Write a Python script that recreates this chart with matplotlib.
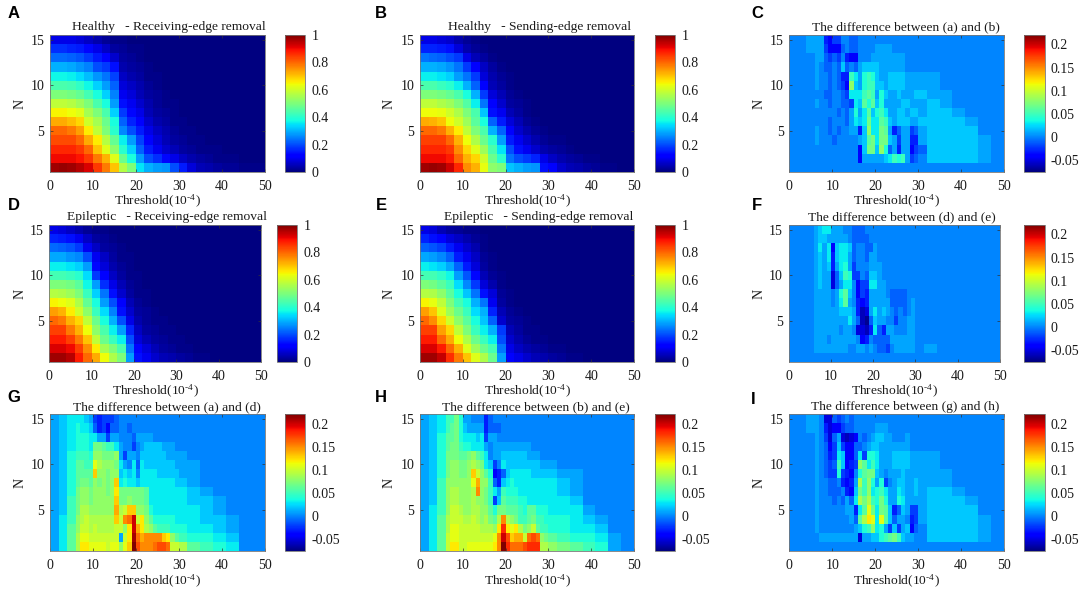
#!/usr/bin/python3
import matplotlib
matplotlib.use("Agg")
import matplotlib.pyplot as plt
import numpy as np

plt.rcParams['font.family'] = ['Liberation Serif', 'DejaVu Serif']
plt.rcParams['mathtext.fontset'] = 'custom'
plt.rcParams['mathtext.rm'] = 'Liberation Serif'
plt.rcParams['mathtext.default'] = 'rm'

W, H = 1084, 592

# cell edges along the threshold axis
SMOOTH_X = list(range(0, 51, 2))
DIFF_X = [0, 2, 4] + list(range(6, 31)) + [32, 35, 38, 41, 44, 47, 50]
N_EDGES = np.arange(0.5, 16)

# every table is listed from N=15 down to N=1, values in hundredths,
# rows stop where the rest of the row is plain background (0)
a_vals = [
    [9, 9, 9, 8, 6, 4, 2, 1, 1],
    [17, 17, 16, 15, 13, 9, 6, 3, 2, 1, 1],
    [23, 23, 22, 21, 18, 15, 12, 7, 3, 2, 1],
    [30, 30, 29, 27, 25, 20, 18, 14, 4, 3, 2, 1],
    [37, 37, 36, 34, 31, 27, 24, 19, 6, 4, 3, 1, 1],
    [44, 44, 43, 41, 37, 33, 28, 22, 8, 6, 4, 2, 1],
    [50, 50, 49, 47, 43, 38, 33, 25, 10, 8, 5, 3, 2, 1],
    [58, 58, 57, 54, 50, 44, 38, 28, 14, 10, 7, 4, 2, 1, 1],
    [65, 65, 64, 62, 55, 50, 44, 33, 18, 13, 9, 5, 3, 2, 1],
    [73, 73, 71, 68, 60, 55, 48, 38, 22, 16, 12, 7, 4, 3, 1, 1],
    [80, 80, 78, 74, 66, 58, 50, 40, 26, 20, 15, 9, 6, 4, 2, 1, 1],
    [83, 83, 83, 80, 73, 66, 57, 47, 36, 28, 19, 12, 8, 5, 3, 2, 1, 1],
    [87, 87, 87, 85, 80, 70, 62, 52, 40, 33, 22, 15, 10, 7, 5, 3, 2, 1, 1, 1],
    [90, 90, 90, 89, 85, 78, 72, 62, 48, 38, 28, 20, 17, 13, 9, 6, 4, 3, 2, 1, 1, 1],
    [97, 98, 97, 95, 92, 85, 78, 70, 57, 50, 35, 30, 28, 27, 20, 15, 8, 5, 4, 3, 2, 2, 1, 1, 1],
]
b_vals = [
    [9, 9, 8, 7, 4, 2, 1],
    [16, 16, 15, 14, 8, 4, 2, 1],
    [24, 23, 22, 20, 18, 9, 5, 3, 1],
    [30, 30, 29, 27, 24, 18, 11, 6, 3, 1],
    [36, 36, 35, 33, 28, 24, 18, 8, 4, 2, 1],
    [44, 44, 42, 40, 36, 30, 22, 12, 5, 3, 1],
    [50, 50, 49, 47, 44, 38, 30, 18, 8, 5, 2, 1],
    [58, 58, 56, 54, 50, 45, 36, 24, 12, 7, 3, 2, 1],
    [64, 64, 63, 60, 56, 50, 44, 32, 14, 10, 5, 3, 1],
    [73, 72, 70, 64, 60, 54, 46, 38, 22, 15, 8, 5, 2, 1],
    [80, 80, 78, 72, 66, 58, 50, 44, 30, 22, 12, 7, 4, 2, 1],
    [84, 84, 84, 80, 72, 64, 56, 48, 40, 28, 15, 10, 7, 4, 2, 1, 1],
    [87, 87, 87, 85, 76, 68, 62, 54, 44, 35, 20, 14, 10, 7, 4, 3, 2, 1],
    [90, 90, 90, 88, 80, 72, 68, 60, 48, 40, 24, 20, 18, 16, 9, 6, 4, 3, 2, 1, 1],
    [97, 98, 97, 93, 87, 76, 72, 63, 52, 50, 32, 30, 28, 27, 14, 12, 7, 5, 4, 3, 2, 1, 1],
]
d_vals = [
    [9, 8, 6, 4, 2, 1, 1],
    [16, 15, 14, 10, 6, 3, 2, 1],
    [23, 22, 21, 18, 10, 6, 3, 2, 1],
    [29, 29, 27, 26, 20, 10, 6, 3, 1, 1],
    [36, 36, 35, 33, 28, 13, 8, 4, 2, 1],
    [43, 43, 42, 40, 34, 18, 12, 6, 3, 1, 1],
    [50, 50, 49, 46, 37, 28, 17, 9, 5, 2, 1],
    [57, 56, 54, 50, 42, 33, 24, 14, 7, 3, 1, 1],
    [65, 64, 62, 56, 47, 38, 28, 20, 11, 5, 2, 1],
    [74, 72, 66, 60, 52, 42, 34, 25, 14, 7, 3, 2, 1],
    [80, 78, 72, 68, 58, 48, 38, 30, 20, 9, 4, 2, 1, 1],
    [84, 84, 78, 72, 64, 52, 44, 36, 28, 16, 6, 3, 2, 1, 1],
    [88, 88, 84, 78, 70, 58, 48, 42, 36, 20, 8, 5, 3, 2, 1, 1],
    [92, 92, 90, 84, 76, 66, 55, 50, 44, 24, 11, 8, 5, 3, 2, 1, 1],
    [97, 97, 95, 88, 80, 73, 64, 56, 50, 28, 14, 10, 7, 5, 4, 3, 2, 1, 1],
]
e_vals = [
    [9, 8, 5, 3, 2, 1, 1],
    [16, 14, 11, 8, 6, 4, 2, 1],
    [22, 21, 19, 15, 10, 7, 4, 1],
    [29, 28, 26, 22, 15, 10, 6, 2, 1],
    [36, 35, 33, 29, 22, 15, 8, 3, 1],
    [43, 43, 41, 37, 28, 21, 13, 5, 2, 1],
    [50, 49, 46, 42, 34, 26, 18, 8, 4, 1],
    [57, 56, 52, 46, 38, 32, 24, 14, 8, 2, 1],
    [65, 63, 58, 50, 43, 38, 30, 24, 10, 3, 1],
    [74, 70, 62, 54, 48, 42, 34, 30, 16, 5, 2, 1],
    [80, 76, 68, 60, 52, 46, 38, 32, 22, 7, 3, 2, 1],
    [84, 84, 74, 68, 58, 50, 42, 36, 30, 18, 5, 3, 1, 1],
    [88, 88, 80, 73, 64, 56, 48, 42, 36, 20, 7, 4, 2, 1, 1],
    [92, 92, 88, 80, 72, 62, 54, 48, 43, 24, 9, 6, 4, 3, 2, 1, 1],
    [97, 97, 94, 86, 78, 70, 62, 56, 48, 28, 12, 9, 7, 5, 4, 3, 2, 1, 1],
]
c_vals = [
    [0, 0, 1, 1, 1, -3, -4, -2, -2, 0, 0, -1, -1],
    [0, 0, 1, 1, 1, -2, -4, -4, -4, -1, 0, -1, -1, 0, 0, 0, 0, 1, 1, 1, 1],
    [0, 0, 0, 1, 1, -1, -2, -1, -2, 0, -3, -4, -4, 0, 0, 0, 1, 1, 1, 1, 1, 1, 1, 1],
    [0, 0, 0, 1, 0, -1, -1, 0, -1, 2, -1, 0, -1, 1, 2, 2, 2, 2, 1, 1, 1, 1, 1, 1],
    [0, 0, 0, 1, 0, 0, -1, 0, -1, -3, -3, 5, 3, 1, 4, 5, 4, 2, 1, 1, 2, 2, 2, 2, 1, 1, 1, 1, 1],
    [0, 0, 0, 1, 0, 0, -1, 0, -1, -2, -4, 8, 2, 1, 4, 5, 5, 2, 2, 1, 2, 2, 2, 2, 1, 1, 1, 1, 1],
    [0, 0, 0, 0, 0, -1, -1, 0, 0, -1, -2, 3, 3, 3, 5, 6, 5, 1, 4, 2, 1, 1, 2, 1, 1, 1, 2, 2, 1, 1],
    [0, 0, 0, 1, 0, 0, -1, 0, 0, -1, -1, -2, 3, 2, 6, 4, 6, 2, 4, 1, 1, 1, 1, 2, 2, 1, 1, 1, 2, 1],
    [0, 0, 0, 0, 0, 0, 0, 0, -1, 0, -1, 1, 4, 1, 3, 6, 2, 4, 5, 3, 1, 1, 2, 2, 1, 2, 2, 1, 2, 2, 1],
    [0, 0, 0, 0, 0, 0, -1, 0, 0, 0, -1, 1, 3, 2, 3, 7, 3, 3, 6, 5, 2, 1, 2, 2, 2, 1, 1, 2, 2, 2, 2, 1],
    [0, 0, 0, 1, 0, 0, -1, 0, -1, 0, 0, 1, 1, -3, 2, 8, 3, 3, 7, 6, 1, -3, -1, 1, 1, -2, -1, 1, 2, 2, 2, 2],
    [0, 0, 0, 1, 0, 0, 0, -1, 0, 0, 0, 0, 0, 1, 2, 6, 7, 3, 7, 7, 2, 1, -2, 1, 1, -3, -3, 1, 2, 2, 2, 2, 1],
    [0, 0, 0, 0, 0, 0, 0, 0, 0, 0, 0, 0, 0, -4, 2, 7, 7, 2, 8, 4, -1, 1, -3, 1, 1, -4, -2, -1, 2, 2, 2, 2, 1],
    [0, 0, 0, 0, 0, 0, 0, 0, 0, 0, 0, 0, 0, -4, 1, 1, 1, 1, 1, 2, 3, 5, 4, 5, 1, -2, -1, 0, 2, 2, 2, 2, 1],
    [],
]
f_vals = [
    [0, 0, 0, 1, 2, 3, 3, 1, 1, 1, 0, 0, -1, -1, -1],
    [0, 0, 0, 1, 2, 2, 1, 1, 1, 1, 1, 0, -1, -1, -1, -1],
    [0, 0, 0, 1, 3, 1, 3, -4, 2, 3, 3, 2, -1, 0, 0, -1, -1, 1],
    [0, 0, 0, 1, 2, 1, 3, -3, 2, 3, 3, 1, -1, 0, 0, -1, 1, 1],
    [0, 0, 0, 1, 2, 1, 2, -3, 1, 3, 4, 1, -2, 0, 0, 0, 1, 1, 1],
    [0, 0, 0, 1, 2, 1, 1, -5, -1, 2, 5, 4, -2, -2, 0, -1, 2, 2, 1],
    [0, 0, 0, 1, 2, 1, 1, -5, -1, 1, 3, 3, 0, -4, -2, -2, 3, 3, 1, 1],
    [0, 0, 0, 1, 1, 1, 1, 0, 1, 4, 6, 2, 0, -4, -2, -3, 1, 1, 1, 1, 0, -1, -1, -1, -1],
    [0, 0, 0, 1, 1, 1, 1, 0, 1, 3, 6, 1, 0, -3, -4, -3, 1, 1, 1, 1, 1, -1, -1, -1, -1, 0, 1],
    [0, 0, 0, 1, 1, 1, 1, 1, 1, 2, 2, 2, 1, -3, -6, -5, 1, 3, 1, 2, 1, 0, -1, 0, -1, 0, 1],
    [0, 0, 0, 1, 1, 1, 1, 1, 1, 1, 1, 3, 1, -1, -6, -7, -1, 2, 1, 1, 0, 0, -2, 0, 0, 1, 1],
    [0, 0, 0, 1, 1, 1, 1, 1, 1, 0, 1, 1, 0, -5, -5, -6, -3, 3, -1, -3, 1, 1, 0, 0, 0, 1, 1],
    [0, 0, 0, 1, 1, 1, 0, 1, 1, 1, 1, 1, 1, 0, -4, -3, 0, -1, -1, -1, -1, 1, 1, 1, 1, 1, 1],
    [0, 0, 0, 1, 1, 1, 1, 1, 1, 1, 1, 0, 0, 1, 1, 0, 1, 0, -1, -1, -2, 0, 1, 1, 1, 1, 1, 0, 1],
    [],
]
g_vals = [
    [1, 2, 3, 3, 3, 2, 1, -2, -3, -2, -2, -2, -1],
    [1, 2, 3, 4, 3, 3, 2, -1, -3, -2, -4, -1, -1, 0, 0, -1],
    [1, 2, 3, 4, 4, 4, 3, 3, 1, 1, -2, 1, 1, 0, 0, 0, -1, 1, 1, 1, 1],
    [1, 2, 3, 4, 4, 4, 3, 7, 7, 6, 5, 5, 3, 1, 0, 0, -2, 0, 1, 2, 2, 2, 2, 1, 1, 1],
    [1, 2, 4, 5, 5, 5, 4, 8, 8, 7, 7, 7, 8, 1, -2, 1, 1, 0, 2, 2, 2, 2, 2, 2, 1, 1, 1, 1],
    [1, 2, 4, 6, 6, 5, 5, 11, 9, 8, 8, 8, 7, 3, 1, 0, 3, -1, 3, 2, 2, 2, 2, 2, 2, 2, 1, 1, 1],
    [1, 2, 4, 6, 6, 6, 6, 13, 8, 8, 7, 8, 8, 2, 3, 2, 3, 0, 3, 3, 3, 3, 2, 2, 2, 2, 2, 1, 1],
    [1, 2, 4, 6, 7, 7, 6, 8, 7, 8, 7, 8, 13, 3, 4, 3, 3, 2, 3, 3, 3, 3, 3, 3, 3, 3, 2, 2, 1],
    [1, 2, 4, 7, 8, 8, 7, 8, 8, 8, 7, 8, 12, 7, 7, 7, 7, 7, 7, 6, 3, 3, 3, 3, 3, 3, 3, 3, 2, 1],
    [1, 2, 5, 7, 8, 8, 7, 8, 8, 8, 8, 8, 13, 7, 7, 8, 7, 7, 7, 6, 3, 3, 3, 3, 3, 3, 3, 3, 2, 2, 1],
    [1, 2, 5, 7, 9, 9, 8, 8, 8, 8, 8, 8, 14, 9, 10, 13, 13, 8, 8, 7, 4, 3, 3, 3, 3, 3, 3, 3, 3, 2, 1],
    [1, 3, 5, 8, 9, 10, 9, 9, 9, 9, 9, 9, 13, 10, 15, 16, 20, 10, 12, 8, 6, 4, 4, 4, 4, 4, 3, 3, 3, 2, 2, 1],
    [1, 3, 6, 8, 10, 10, 9, 10, 9, 9, 9, 9, 10, 10, 8, 12, 20, 14, 12, 9, 8, 6, 5, 5, 5, 4, 4, 4, 3, 3, 2, 1],
    [1, 3, 6, 9, 11, 11, 10, 10, 10, 10, 10, 10, 10, 1, 10, 12, 21, 16, 14, 15, 15, 15, 15, 13, 12, 8, 6, 5, 4, 4, 3, 2],
    [1, 3, 6, 9, 12, 12, 11, 11, 11, 11, 10, 11, 11, 8, 11, 13, 22, 17, 15, 15, 15, 16, 17, 17, 16, 10, 10, 9, 6, 5, 4, 3],
]
h_vals = [
    [1, 2, 3, 5, 5, 7, 4, 1, 1, 0, 0, 0, -3, -1],
    [1, 2, 3, 5, 6, 7, 4, 2, 1, 1, 1, 1, -3, -1, -1, -1],
    [1, 2, 4, 6, 6, 7, 4, 3, 3, 3, 2, 3, -2, 1, 1],
    [1, 2, 4, 6, 7, 7, 5, 4, 4, 3, 3, 3, 1, 0, 1, 1, 1, 1, 1, 1, 1, 1, 1],
    [1, 2, 4, 7, 7, 7, 6, 6, 7, 8, 6, 5, 3, 0, 1, 1, 2, 2, 2, 2, 2, 2, 1, 1, 1],
    [1, 2, 4, 7, 8, 8, 7, 7, 8, 9, 8, 7, 3, 2, -2, 0, 3, 2, 2, 2, 2, 2, 2, 2, 2, 1, 1, 1],
    [1, 2, 4, 7, 8, 8, 7, 7, 8, 13, 10, 8, 6, 4, -4, -3, -1, 2, 3, 3, 3, 3, 3, 2, 2, 2, 2, 2, 1, 1],
    [1, 2, 5, 8, 8, 8, 8, 8, 8, 11, 14, 8, 8, 5, -1, -3, 2, 3, 4, 3, 3, 3, 3, 3, 3, 3, 3, 3, 2, 1],
    [1, 2, 5, 8, 9, 9, 8, 8, 8, 9, 15, 8, 7, 5, 3, 1, 5, 4, 4, 4, 3, 3, 3, 3, 3, 3, 3, 3, 2, 1],
    [1, 2, 5, 8, 9, 9, 8, 8, 8, 9, 8, 8, 7, 5, -2, 2, 6, 5, 5, 5, 4, 4, 3, 3, 3, 3, 3, 3, 3, 2],
    [1, 3, 5, 8, 10, 10, 9, 8, 8, 9, 9, 8, 8, 6, 4, 7, 7, 6, 6, 6, 5, 4, 6, 6, 4, 4, 4, 3, 3, 3, 1],
    [1, 3, 6, 9, 10, 10, 10, 9, 9, 10, 9, 8, 9, 7, 6, 9, 15, 9, 8, 7, 5, 5, 6, 7, 5, 5, 4, 4, 4, 3, 2, 1],
    [1, 3, 6, 9, 11, 11, 10, 10, 10, 10, 10, 9, 9, 9, 8, 12, 18, 12, 11, 12, 9, 7, 8, 10, 6, 5, 5, 4, 4, 3, 3, 2],
    [1, 3, 6, 10, 11, 11, 10, 10, 10, 10, 10, 10, 10, 10, 11, 15, 20, 17, 13, 14, 14, 10, 16, 17, 16, 8, 7, 6, 5, 4, 4, 3, 1],
    [1, 3, 6, 10, 12, 12, 10, 10, 11, 11, 11, 11, 11, 11, 12, 15, 22, 18, 16, 16, 16, 17, 18, 18, 18, 9, 9, 8, 7, 6, 5, 4, 1],
]
i_vals = [
    [0, 0, 1, 1, 0, -5, -5, -1, -2, -1, 0, -1],
    [0, 0, 1, 1, 0, -3, -5, -4, -4, -2, -1, -1, 0, 0, 0, 0, 0, 1, 1, 1],
    [0, 0, 0, 1, 0, -2, -5, -1, 1, -5, -6, -5, -4, 0, -1, 0, 1, 2, 2, 1, 1, 0, 0, 0, 1],
    [0, 0, 0, 1, 0, -1, -4, -2, 2, -2, -4, -4, -1, -1, 0, 1, 2, 2, 1, 1, 1, 1, 1, 1, 1],
    [0, 0, 0, 1, 0, -1, -3, -2, 3, 2, -4, -4, -1, 3, -2, 4, 4, 3, 1, 1, 1, 2, 2, 2, 2, 1, 1, 1, 1],
    [0, 0, 0, 1, 0, -1, -2, -1, 5, 2, -4, -3, -2, 8, 6, 3, 5, 3, 1, 1, 1, 2, 2, 2, 2, 1, 1, 1, 1],
    [0, 0, 0, 1, 0, -1, -2, -2, 4, -2, -3, -4, 0, 4, 6, 7, 7, 2, 1, 0, 1, 1, 1, 2, 1, 1, 1, 1, 1, 1],
    [0, 0, 0, 1, 0, 0, -1, -1, 0, -3, -4, -3, 1, 9, 5, 8, 4, 1, 4, -2, 0, 1, 2, 2, 1, 1, 2, 1, 1, 1],
    [0, 0, 0, 1, 0, 0, -1, -1, -1, 0, -3, -4, 2, 7, 5, 8, 3, 4, 5, 3, 1, 1, 3, 2, 1, 1, 2, 1, 2, 2, 1],
    [0, 0, 0, 1, 0, 0, 0, -1, 0, -1, 1, -1, 3, 9, 7, 9, 5, 4, 7, 4, 1, 1, 4, 3, 1, 1, 1, 1, 2, 2, 2, 1],
    [0, 0, 0, 1, 0, 0, 0, 0, 0, 0, 1, 1, -3, 3, 6, 11, 7, 3, 7, 6, 2, -3, -1, 2, 1, -2, -2, 1, 2, 2, 2, 2],
    [0, 0, 0, 1, 0, 0, 0, 0, 0, 0, 0, 1, -1, 6, 9, 12, 11, 3, 11, 6, 2, -1, 1, 1, 0, -3, -2, 1, 2, 2, 2, 2, 1],
    [0, 0, 0, 1, 0, 0, 0, 0, 0, 0, 0, 0, 1, 2, 4, 5, 8, 3, 4, 1, -2, 2, -2, 1, 2, -4, -1, 0, 2, 2, 2, 2, 1],
    [0, 0, 0, 0, 1, 1, 1, 1, 1, 1, 1, 1, 1, -5, 1, 1, 2, 2, 4, 5, 6, 7, 5, 2, 1, 1, 0, 0, 2, 2, 2, 2, 1],
    [],
]

titles = [
    'Healthy   - Receiving-edge removal', 'Healthy   - Sending-edge removal',
    'The difference between (a) and (b)',
    'Epileptic   - Receiving-edge removal', 'Epileptic   - Sending-edge removal',
    'The difference between (d) and (e)',
    'The difference between (a) and (d)', 'The difference between (b) and (e)',
    'The difference between (g) and (h)',
]
letters = ['A', 'B', 'C', 'D', 'E', 'F', 'G', 'H', 'I']
tables = [a_vals, b_vals, c_vals, d_vals, e_vals, f_vals, g_vals, h_vals, i_vals]
x_ticks = [0, 10, 20, 30, 40, 50]
n_ticks = [5, 10, 15]
smooth_cbar_ticks = [0, 0.2, 0.4, 0.6, 0.8, 1]
smooth_cbar_labels = ['0', '0.2', '0.4', '0.6', '0.8', '1']
diff_cbar_ticks = [-0.05, 0, 0.05, 0.1, 0.15, 0.2]
diff_cbar_labels = ['-0.05', '0', '0.05', '0.1', '0.15', '0.2']

# layout in reference pixels: left, right, top, bottom
axes_px = [(50, 264.7, 35, 172), (420, 634, 35, 172), (789.3, 1004, 35, 172),
           (49.3, 261, 225, 362), (420, 634, 225, 362), (788.5, 1000, 225, 362),
           (50, 264.7, 414.3, 551), (420, 634, 414.3, 551), (789.3, 1004, 414.3, 551)]
cbar_px = [(285, 305), (655, 675), (1024, 1044.7),
           (277, 297), (655, 675), (1024, 1044.7),
           (285, 305), (655, 675), (1024, 1044.7)]
title_cx = [169, 539.6, 905.5, 167, 539, 902, 167, 536, 904.7]
title_cy = [27, 27, 27, 217, 217, 217, 407, 407, 407]
xlabel_cy = [201, 201, 201, 391, 391, 391, 581, 581, 581]
letter_xy = [(14, 13), (381, 13), (757, 13), (14, 205), (381, 205), (757, 205),
             (14, 397), (381, 397), (753, 400)]
ylabel_x = [20, 389, 759, 20, 389, 759, 20, 389, 759]


def to_grid(rows, n_cols):
    out = np.zeros((15, n_cols))
    for r, row in enumerate(rows):
        out[r, :len(row)] = row
    return np.flipud(out) / 100.0


def px_box(left, right, top, bottom):
    return [left / W, 1 - bottom / H, (right - left) / W, (bottom - top) / H]


def style_axes(ax):
    ax.tick_params(direction='in', length=2, width=0.5, labelsize=10, pad=4,
                   color='#333333', labelcolor='#1a1a1a')
    for s in ax.spines.values():
        s.set_linewidth(0.6)
        s.set_color('#777777')


fig = plt.figure(figsize=(W / 100, H / 100), dpi=100)

for i, rows in enumerate(tables):
    smooth = i in (0, 1, 3, 4)
    edges = SMOOTH_X if smooth else DIFF_X
    grid = to_grid(rows, len(edges) - 1)
    vmin, vmax = (0, 1) if smooth else (-0.075, 0.22)

    l, r, t, b = axes_px[i]
    ax = fig.add_axes(px_box(l, r, t, b))
    mesh = ax.pcolormesh(edges, N_EDGES, grid, cmap='jet', vmin=vmin, vmax=vmax,
                         shading='flat', rasterized=True)
    ax.set_xlim(0, 50)
    ax.set_ylim(0.5, 15.5)
    ax.set_xticks(x_ticks)
    ax.set_yticks(n_ticks)
    style_axes(ax)
    ax.tick_params(top=True, right=True)
    ax.tick_params(axis='x', pad=6)

    cl, cr = cbar_px[i]
    cax = fig.add_axes(px_box(cl, cr, t, b))
    cb = fig.colorbar(mesh, cax=cax)
    if smooth:
        cb.set_ticks(smooth_cbar_ticks, labels=smooth_cbar_labels)
    else:
        cb.set_ticks(diff_cbar_ticks, labels=diff_cbar_labels)
    style_axes(cax)
    cax.tick_params(length=0, pad=4.5)
    cb.outline.set_linewidth(0.6)
    cb.outline.set_edgecolor('#777777')

    fig.text(title_cx[i] / W, 1 - title_cy[i] / H, titles[i], ha='center', va='center',
             fontsize=9.7, color='#1a1a1a')
    fig.text((l + r) / 2 / W, 1 - xlabel_cy[i] / H, 'Threshold(10$^{\\text{-}4}$)', ha='center',
             va='center', fontsize=9.7, color='#1a1a1a')
    fig.text(ylabel_x[i] / W, 1 - (t + b) / 2 / H, 'N', rotation=90, ha='center',
             va='center', fontsize=10, color='#1a1a1a')
    fig.text(letter_xy[i][0] / W, 1 - letter_xy[i][1] / H, letters[i], ha='center',
             va='center', fontsize=12, fontweight='bold', family='Liberation Sans')

fig.savefig('out.png', dpi=100)
